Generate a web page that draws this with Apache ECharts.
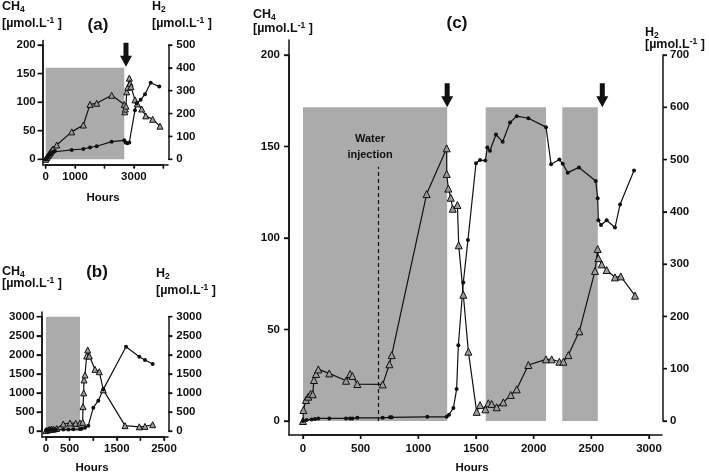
<!DOCTYPE html>
<html><head><meta charset="utf-8">
<script src="https://cdn.jsdelivr.net/npm/echarts@6/dist/echarts.min.js"></script>
<style>html,body{margin:0;padding:0;background:#fff}#c{width:709px;height:474px}</style>
</head><body><div id="c"></div>
<script>
// ---------- Panel (a) ----------
const aTriHours = [0, 40, 80, 120, 160, 200, 250, 374, 884, 1280, 1507, 1735, 2245, 2673, 2690, 2710, 2731, 2755, 2790, 2844, 2870, 2901, 3037, 3116, 3265, 3401, 3639, 3888];
const aTriCH4   = [0, 3, 6, 9, 12, 15, 18, 25, 48, 60, 96, 98, 112, 96, 83, 88, 93, 118, 126, 142, 133, 127, 104, 97, 88, 76, 70, 58];
const aCirHours = [0, 30, 60, 100, 150, 200, 250, 316, 884, 1280, 1507, 1735, 2245, 2673, 2721, 2776, 2844, 3037, 3095, 3231, 3378, 3571, 3864];
const aCirH2    = [0, 5, 10, 15, 22, 27, 32, 36, 41, 45, 52, 57, 77, 83, 74, 70, 74, 215, 245, 260, 285, 335, 318];
const aShade    = [[0, 2673]];
const aArrowsH  = [2731];
const aXTicks   = [0, 1000, 2000, 3000, 4000];
const aLTicks   = [0, 50, 100, 150, 200];
const aRTicks   = [0, 100, 200, 300, 400, 500];
// ---------- Panel (b) ----------
const bTriHours = [0, 50, 85, 120, 160, 226, 367, 509, 629, 720, 777, 784, 798, 805, 826, 862, 883, 918, 1038, 1129, 1214, 1674, 1977, 2097, 2260];
const bTriCH4   = [10, 30, 40, 45, 50, 65, 183, 210, 200, 210, 227, 640, 1000, 1339, 1470, 1968, 2126, 1968, 1619, 1557, 1080, 140, 110, 120, 165];
const bCirHours = [0, 49, 120, 155, 212, 367, 473, 579, 720, 756, 826, 896, 1002, 1108, 1214, 1695, 1977, 2097, 2260];
const bCirH2    = [20, 25, 30, 30, 35, 40, 40, 45, 50, 60, 87, 140, 612, 795, 1093, 2213, 1950, 1863, 1758];
const bShade    = [[0, 720]];
const bArrowsH  = [805];
const bXTicks   = [0, 500, 1000, 1500, 2000, 2500];
const bLTicks   = [0, 500, 1000, 1500, 2000, 2500, 3000];
const bRTicks   = [0, 500, 1000, 1500, 2000, 2500, 3000];
// ---------- Panel (c) ----------
const cTriHours = [0, 3, 26, 46, 66, 84, 95, 113, 133, 228, 373, 408, 428, 471, 691, 749, 769, 1072, 1246, 1246, 1260, 1281, 1298, 1339, 1350, 1390, 1434, 1506, 1535, 1581, 1607, 1636, 1679, 1737, 1801, 1853, 1954, 2107, 2156, 2223, 2258, 2301, 2396, 2532, 2555, 2561, 2590, 2633, 2705, 2755, 2879];
const cTriCH4   = [0, 6, 11.5, 13.3, 14.8, 14.6, 22.4, 25.7, 28.2, 26, 22, 25.7, 24.6, 20.2, 20, 31, 36, 124, 149, 135, 127, 122, 116, 118, 96, 69, 37.9, 5, 8.7, 6.4, 9.7, 9.3, 7.5, 10.2, 14.2, 17.3, 30.6, 33.7, 33.7, 32.4, 32.4, 36, 49, 82, 94, 89, 85.6, 82.5, 78.5, 79, 68.5];
const cCirHours = [0, 32, 75, 104, 133, 228, 373, 408, 428, 471, 691, 754, 769, 1078, 1246, 1266, 1304, 1332, 1347, 1390, 1430, 1500, 1535, 1581, 1598, 1621, 1673, 1731, 1795, 1853, 1954, 2107, 2151, 2223, 2252, 2295, 2393, 2538, 2555, 2561, 2584, 2633, 2705, 2749, 2870];
const cCirH2    = [0, 2, 3, 4, 5, 5, 5, 5, 5, 6, 6, 7, 7, 8, 8, 12, 25, 61, 145, 265, 346, 493, 499, 498, 523, 517, 548, 534, 571, 583, 579, 562, 491, 500, 492, 475, 485, 459, 426, 384, 375, 384, 370, 414, 479];
const cShade    = [[0, 1250], [1584, 2107], [2248, 2556]];
const cArrowsH  = [1250, 2595];
const cWaterH   = 650;
const cXTicks   = [0, 500, 1000, 1500, 2000, 2500, 3000];
const cLTicks   = [0, 50, 100, 150, 200];
const cRTicks   = [0, 100, 200, 300, 400, 500, 600, 700];

const FONT = 'Liberation Sans, Arial, sans-serif';
const INK = '#111';
const SHADE = '#ababab';
const ARROW = 'path://M3.5,0 L8.5,0 L8.5,13 L12,13 L6,24 L0,13 L3.5,13 Z';
const zip = (h, v) => h.map((x, i) => [x, v[i]]);

const panels = [
  { grid: {left: 45.7, top: 45, right: 545.7, bottom: 314.7},
    frame: {left: 42.7, top: 40.5, right: 541, bottom: 309.5}, rightLine: 540.7,
    xMax: 4000, xInt: 1000, xHide: [2000, 4000], xMargin: 6,
    yL: [200, 50], yR: [500, 100], lMargin: 7, rMargin: 8,
    xTicks: aXTicks, lTicks: aLTicks, rTicks: aRTicks,
    tri: zip(aTriHours, aTriCH4), cir: zip(aCirHours, aCirH2), shade: aShade, shadeTop: 400,
    arrows: aArrowsH, arrowY: 183 },
  { grid: {left: 46, top: 316.7, right: 545, bottom: 43},
    frame: {left: 41.7, top: 312, right: 541, bottom: 37.3}, rightLine: 540.7,
    xMax: 2500, xInt: 500, xHide: [1000, 2000], xMargin: 6,
    yL: [3000, 500], yR: [3000, 500], lMargin: 7, rMargin: 8,
    xTicks: bXTicks, lTicks: bLTicks, rTicks: bRTicks,
    tri: zip(bTriHours, bTriCH4), cir: zip(bCirHours, bCirH2), shade: bShade, shadeTop: 3000,
    arrows: bArrowsH, arrowY: 3367 },
  { grid: {left: 303, top: 55, right: 60, bottom: 53},
    frame: {left: 289, top: 40, right: 47, bottom: 39}, rightLine: 46,
    xMax: 3000, xInt: 500, xHide: [], xMargin: 8,
    yL: [200, 50], yR: [700, 100], lMargin: 9, rMargin: 7,
    xTicks: cXTicks, lTicks: cLTicks, rTicks: cRTicks,
    tri: zip(cTriHours, cTriCH4), cir: zip(cCirHours, cCirH2), shade: cShade, shadeTop: 600,
    arrows: cArrowsH, arrowY: 178 }
];

const W = 709, H = 474;
const labelStyle = (margin, hide) => ({ fontSize: 11.5, fontWeight: 'bold', color: INK, fontFamily: FONT, margin: margin,
  formatter: v => (hide || []).includes(v) ? '' : String(v) });
const line = () => ({ show: true, onZero: false, lineStyle: { color: INK, width: 1.5 } });
const hiddenAxis = (gi, max) => ({ type: 'value', gridIndex: gi, min: 0, max: max, show: false });
const grids = [], xAxes = [], yAxes = [], series = [];
const addGrid = (g) => { grids.push(Object.assign({ outerBoundsMode: 'none' }, g)); return grids.length - 1; };
// tick marks drawn as small rect symbols placed by the thin grid's own scale
const tickSeries = (xi, yi, data, size) => ({ type: 'scatter', xAxisIndex: xi, yAxisIndex: yi, data: data,
  symbol: 'rect', symbolSize: size, clip: false, silent: true, z: 5, itemStyle: { color: INK, opacity: 1 } });

panels.forEach((p, i) => {
  const gD = addGrid(p.grid);
  const xi = xAxes.push(hiddenAxis(gD, p.xMax)) - 1;
  const yl = yAxes.push(Object.assign(hiddenAxis(gD, p.yL[0]), { position: 'left' })) - 1;
  const yr = yAxes.push(Object.assign(hiddenAxis(gD, p.yR[0]), { position: 'right' })) - 1;
  // label axes (y)
  const gY = addGrid({ left: p.frame.left, right: p.rightLine, top: p.grid.top, bottom: p.grid.bottom });
  xAxes.push(hiddenAxis(gY, 1));
  yAxes.push({ type: 'value', gridIndex: gY, position: 'left', min: 0, max: p.yL[0], interval: p.yL[1],
    axisLine: line(), axisTick: { show: true, length: 5, lineStyle: { color: INK, width: 1.3 } }, axisLabel: labelStyle(p.lMargin), splitLine: { show: false } });
  yAxes.push({ type: 'value', gridIndex: gY, position: 'right', min: 0, max: p.yR[0], interval: p.yR[1],
    axisLine: line(), axisTick: { show: true, length: 4, lineStyle: { color: INK, width: 1.3 } }, axisLabel: labelStyle(p.rMargin), splitLine: { show: false } });
  // label axis (x)
  const gX = addGrid({ left: p.grid.left, right: p.grid.right, top: p.grid.top, bottom: p.frame.bottom });
  yAxes.push(hiddenAxis(gX, 1));
  xAxes.push({ type: 'value', gridIndex: gX, min: 0, max: p.xMax, interval: p.xInt,
    axisLine: line(), axisTick: { show: true, length: 4, lineStyle: { color: INK, width: 1.3 } }, axisLabel: labelStyle(p.xMargin, p.xHide), splitLine: { show: false } });
  // frame grid: L-shaped box
  const gF = addGrid(p.frame);
  xAxes.push({ type: 'value', gridIndex: gF, min: 0, max: 1, axisLine: line(), axisTick: { show: false }, axisLabel: { show: false }, splitLine: { show: false } });
  yAxes.push({ type: 'value', gridIndex: gF, position: 'left', min: 0, max: 1, axisLine: line(), axisTick: { show: false }, axisLabel: { show: false }, splitLine: { show: false } });
  // thin grids that hold the tick marks
  const gTL = addGrid({ left: p.frame.left - 5, width: 5, top: p.grid.top, bottom: p.grid.bottom });
  const tlx = xAxes.push(hiddenAxis(gTL, 1)) - 1;
  const tly = yAxes.push(hiddenAxis(gTL, p.yL[0])) - 1;
  const gTR = addGrid({ left: W - p.rightLine, width: 4, top: p.grid.top, bottom: p.grid.bottom });
  const trx = xAxes.push(hiddenAxis(gTR, 1)) - 1;
  const try_ = yAxes.push(hiddenAxis(gTR, p.yR[0])) - 1;
  const gTB = addGrid({ left: p.grid.left, right: p.grid.right, top: H - p.frame.bottom, height: 4 });
  const tbx = xAxes.push(hiddenAxis(gTB, p.xMax)) - 1;
  const tby = yAxes.push(hiddenAxis(gTB, 1)) - 1;
  series.push(tickSeries(tlx, tly, p.lTicks.map(v => [0.5, v]), [5, 1.4]));
  series.push(tickSeries(trx, try_, p.rTicks.map(v => [0.5, v]), [4, 1.4]));
  series.push(tickSeries(tbx, tby, p.xTicks.map(v => [v, 0.5]), [1.4, 4]));

  series.push({ type: 'line', xAxisIndex: xi, yAxisIndex: yr, data: [], z: 1, silent: true,
    markArea: { silent: true, itemStyle: { color: SHADE, opacity: 1 },
      data: p.shade.map(s => [{ xAxis: s[0], yAxis: 0 }, { xAxis: s[1], yAxis: p.shadeTop }]) } });
  const triSeries = { type: 'line', xAxisIndex: xi, yAxisIndex: yl, data: p.tri, z: 3,
    symbol: 'triangle', symbolSize: i === 2 ? 7 : 6, showAllSymbol: true,
    itemStyle: { color: '#9c9c9c', borderColor: INK, borderWidth: 1 },
    lineStyle: { color: INK, width: 1.2 },
    markPoint: { silent: true, symbol: ARROW, symbolSize: [12, 24], itemStyle: { color: INK }, label: { show: false },
      data: p.arrows.map(h => ({ coord: [h, p.arrowY] })) } };
  if (i === 2) {
    triSeries.markLine = { silent: true, symbol: 'none', label: { show: false },
      lineStyle: { type: [4, 3], color: INK, width: 1.2 },
      data: [[{ coord: [cWaterH, 0] }, { coord: [cWaterH, 139] }]] };
    triSeries.markPoint.data.push({ coord: [581, 150], symbol: 'rect', symbolSize: 1,
      itemStyle: { color: 'rgba(0,0,0,0)' },
      label: { show: true, position: 'inside', formatter: 'Water\ninjection', color: INK,
        fontSize: 11, fontWeight: 'bold', fontFamily: FONT, lineHeight: 16 } });
  }
  series.push(triSeries);
  series.push({ type: 'line', xAxisIndex: xi, yAxisIndex: yr, data: p.cir, z: 3,
    symbol: 'circle', symbolSize: 4, showAllSymbol: true,
    itemStyle: { color: INK }, lineStyle: { color: INK, width: 1.2 } });
});

const rich = {
  m: { fontSize: 12.5, fontWeight: 'bold', fontFamily: FONT, fill: INK, lineHeight: 15 },
  sub: { fontSize: 8.5, fontWeight: 'bold', fontFamily: FONT, fill: INK, verticalAlign: 'bottom', lineHeight: 9 },
  sup: { fontSize: 8.5, fontWeight: 'bold', fontFamily: FONT, fill: INK, verticalAlign: 'top', lineHeight: 9 }
};
const T = (x, y, text, opts) => Object.assign({ type: 'text', x: x, y: y, silent: true,
  style: Object.assign({ text: text, rich: rich, fill: INK, align: 'left', verticalAlign: 'middle', textAlign: 'left', textVerticalAlign: 'middle' }, opts || {}) });
const CH4 = '{m|CH}{sub|4}';
const UNIT = '{m|[µmol.L}{sup|-1}{m| ]}';
const H2 = '{m|H}{sub|2}';
const title = (x, y, t) => T(x, y, t, { font: 'bold 17px ' + FONT, align: 'center', textAlign: 'center' });
const hours = (x, y) => T(x, y, 'Hours', { font: 'bold 11.5px ' + FONT, align: 'center', textAlign: 'center' });
const graphic = [
  T(2, 7, CH4), T(2, 24, UNIT), title(98, 25, '(a)'), T(152, 7, H2), T(152, 24, UNIT), hours(103, 198),
  T(2, 272, CH4), T(2, 284, UNIT), title(97, 272, '(b)'), T(156, 274, H2), T(156, 291, UNIT), hours(92, 468),
  T(253, 15, CH4), T(253, 29, UNIT), title(457, 23, '(c)'), T(645, 33, H2), T(645, 45, UNIT), hours(472, 468)
];

const chart = echarts.init(document.getElementById('c'));
chart.setOption({ animation: false, backgroundColor: '#fff', grid: grids, xAxis: xAxes, yAxis: yAxes, series: series, graphic: graphic });
</script>
</body></html>
